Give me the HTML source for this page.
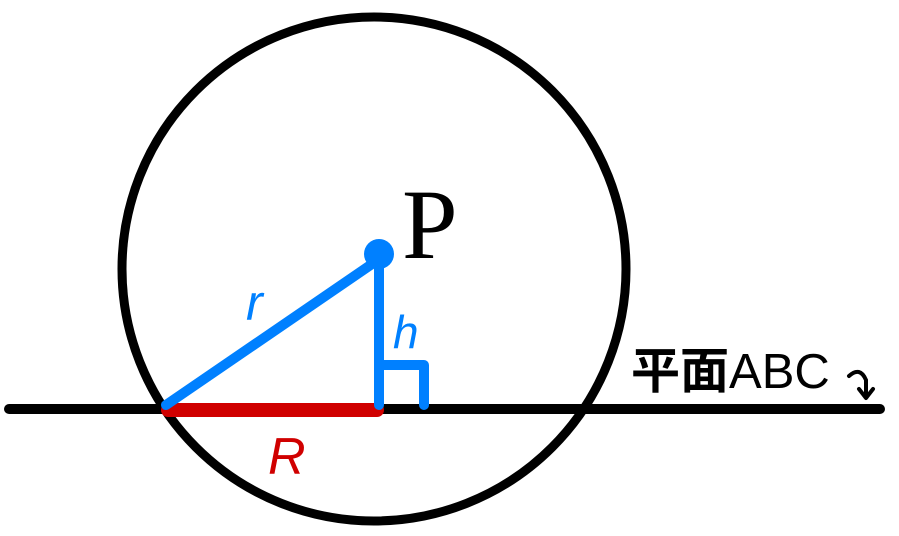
<!DOCTYPE html>
<html><head><meta charset="utf-8"><style>
html,body{margin:0;padding:0;background:#fff;}
svg{display:block;}
</style></head><body>
<svg width="899" height="536" viewBox="0 0 899 536" xmlns="http://www.w3.org/2000/svg">
<circle cx="374" cy="269" r="252" fill="none" stroke="#000" stroke-width="9"/>
<line x1="9" y1="409" x2="880" y2="409" stroke="#000" stroke-width="10" stroke-linecap="round"/>
<line x1="168" y1="410" x2="377" y2="410" stroke="#d00000" stroke-width="14" stroke-linecap="round"/>
<line x1="166" y1="405" x2="372" y2="264" stroke="#0080ff" stroke-width="10" stroke-linecap="round"/>
<line x1="379" y1="255" x2="379" y2="405" stroke="#0080ff" stroke-width="10" stroke-linecap="round"/>
<polyline points="381,365 424,365 424,405" fill="none" stroke="#0080ff" stroke-width="10" stroke-linecap="round" stroke-linejoin="round"/>
<circle cx="379" cy="254" r="15" fill="#0080ff"/>
<text x="402" y="258" font-family="Liberation Serif, serif" font-size="100" fill="#000">P</text>
<text x="246" y="320" font-family="Liberation Sans, sans-serif" font-style="italic" font-size="50" fill="#0080ff">r</text>
<text x="393" y="348" font-family="Liberation Sans, sans-serif" font-style="italic" font-size="46" fill="#0080ff">h</text>
<text x="268" y="474" font-family="Liberation Sans, sans-serif" font-style="italic" font-size="52" fill="#d00000">R</text>
<text x="631" y="388" font-family="Liberation Sans, 'Noto Sans CJK SC', sans-serif" font-size="49" fill="#000"><tspan font-weight="bold">平面</tspan>ABC</text>
<path d="M849 376 Q860 366 866 380 L866 396" fill="none" stroke="#000" stroke-width="4" stroke-linecap="round"/>
<path d="M859 389 L866 398 L873 389" fill="none" stroke="#000" stroke-width="4" stroke-linecap="round" stroke-linejoin="round"/>
</svg>
</body></html>
